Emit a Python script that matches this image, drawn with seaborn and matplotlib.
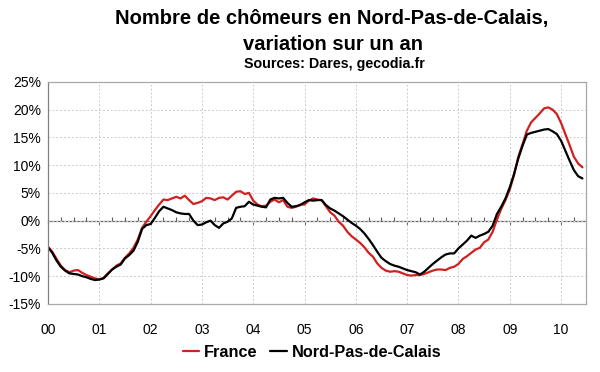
import numpy as np
import pandas as pd
import seaborn as sns
import matplotlib.pyplot as plt
from matplotlib.ticker import MultipleLocator, FuncFormatter

# Variation sur un an (%), mensuel, janvier 2000 -> juin 2010

france = [
    -4.7, -5.6, -6.9, -8.1, -8.9, -9.3, -9.0, -8.9, -9.4, -9.8, -10.1, -10.4,
    -10.6, -10.3, -9.5, -8.8, -8.1, -7.7, -6.7, -5.9, -4.9, -3.4, -1.3, -0.2,
    0.8, 1.9, 2.9, 3.8, 3.7, 4.0, 4.3, 4.0, 4.5, 3.7, 3.0, 3.2,
    3.5, 4.1, 4.0, 3.7, 4.1, 4.2, 3.8, 4.5, 5.2, 5.3, 4.8, 5.0,
    3.6, 2.9, 2.6, 2.7, 3.4, 3.8, 3.3, 3.7, 2.5, 2.3, 2.5, 2.9,
    2.9, 3.6, 4.0, 3.8, 3.7, 2.6, 1.5, 0.9, -0.2, -0.9, -2.0, -2.8,
    -3.4, -4.0, -4.8, -5.8, -6.5, -7.7, -8.5, -9.0, -9.2, -9.1, -9.2, -9.5,
    -9.8, -9.9, -9.8, -9.8, -9.6, -9.3, -9.0, -8.8, -8.8, -8.9, -8.5, -8.3,
    -7.8, -6.9, -6.4, -5.8, -5.2, -4.9, -3.9, -3.4, -2.0, 0.2, 2.1, 3.7,
    5.6, 8.2, 11.5, 13.8, 16.2, 17.7, 18.5, 19.3, 20.2, 20.4, 20.0, 19.2,
    17.6, 15.6, 13.6, 11.5, 10.3, 9.6,
]

nord_pdc = [
    -4.8, -5.8, -7.2, -8.3, -9.0, -9.5, -9.6, -9.7, -10.0, -10.2, -10.5, -10.7,
    -10.6, -10.4, -9.6, -8.8, -8.3, -7.9, -6.8, -6.2, -5.4, -3.8, -1.5, -0.8,
    -0.6, 0.5, 1.7, 2.5, 2.2, 1.9, 1.5, 1.3, 1.2, 1.2, 0.0, -0.8,
    -0.7, -0.3, 0.0, -0.8, -1.3, -0.5, -0.2, 0.4, 2.3, 2.5, 2.6, 3.4,
    2.9, 2.7, 2.5, 2.4, 3.8, 4.1, 4.0, 4.1, 3.2, 2.5, 2.6, 2.8,
    3.3, 3.7, 3.6, 3.7, 3.7, 2.8, 2.2, 1.8, 1.3, 0.8, 0.2, -0.4,
    -0.9, -1.5, -2.3, -3.3, -4.4, -5.6, -6.7, -7.3, -7.8, -8.1, -8.3, -8.6,
    -8.9, -9.1, -9.3, -9.7, -9.2, -8.5, -7.8, -7.2, -6.6, -6.1, -5.9, -5.9,
    -5.0, -4.3, -3.6, -2.7, -3.1, -2.7, -2.4, -2.0, -0.9, 1.2, 2.5, 4.0,
    6.0, 8.4, 11.2, 13.5, 15.5, 15.8, 16.0, 16.2, 16.4, 16.5, 16.1, 15.6,
    14.4, 12.6, 10.8, 9.1, 8.0, 7.6,
]

years = ["00", "01", "02", "03", "04", "05", "06", "07", "08", "09", "10"]
series_names = ["France", "Nord-Pas-de-Calais"]
colors = {"France": "#d02020", "Nord-Pas-de-Calais": "#000000"}

df = pd.DataFrame({
    "annee": np.arange(len(france)) / 12,
    "France": france,
    "Nord-Pas-de-Calais": nord_pdc,
})
long_df = df.melt(id_vars="annee", var_name="serie", value_name="variation")

sns.set_style("white")
plt.rcParams["font.family"] = ["Liberation Sans", "DejaVu Sans"]
plt.rcParams["text.color"] = "black"

fig = plt.figure(figsize=(6, 3.72), dpi=100)
ax = fig.add_axes([0.08, 0.183, 0.897, 0.597])

sns.lineplot(
    data=long_df,
    x="annee",
    y="variation",
    hue="serie",
    hue_order=series_names,
    palette=colors,
    linewidth=1.6,
    ax=ax,
    legend=False,
)

ax.set_xlim(0, 10.49)
ax.set_ylim(-15, 25)
ax.set_xlabel("")
ax.set_ylabel("")

# grille pointillée
ax.yaxis.set_major_locator(MultipleLocator(5))
ax.grid(True, which="major", color="#cccccc", linestyle=(0, (2, 2)), linewidth=0.7)

ax.yaxis.set_major_formatter(FuncFormatter(lambda v, p: "%d%%" % v))
ax.set_xticks(range(len(years)))
ax.set_xticklabels(years)
ax.tick_params(axis="x", length=0, pad=14, labelsize=10, labelcolor="black")
ax.tick_params(axis="y", direction="out", length=3, width=0.8, color="#808080",
               labelsize=10, pad=2, labelcolor="black")

for side in ["top", "right", "bottom"]:
    ax.spines[side].set_color("#a8a8a8")
    ax.spines[side].set_linewidth(0.9)
ax.spines["left"].set_color("#808080")
ax.spines["left"].set_linewidth(0.9)

# axe horizontal au niveau 0%
zero_ax = ax.secondary_xaxis(15 / 40)
zero_ax.spines["bottom"].set_color("#606060")
zero_ax.spines["bottom"].set_linewidth(0.9)
zero_ax.xaxis.set_major_locator(MultipleLocator(1))
zero_ax.xaxis.set_minor_locator(MultipleLocator(0.25))
zero_ax.tick_params(which="major", direction="out", length=3, width=0.8,
                    color="#606060", labelbottom=False)
zero_ax.tick_params(which="minor", direction="in", length=3, width=0.8,
                    color="#606060")
zero_ax.set_xticklabels([])

fig.text(0.553, 0.950, "Nombre de chômeurs en Nord-Pas-de-Calais,",
         ha="center", va="center", fontsize=14.5, fontweight="bold")
fig.text(0.555, 0.881, "variation sur un an",
         ha="center", va="center", fontsize=14.5, fontweight="bold")
fig.text(0.557, 0.828, "Sources: Dares, gecodia.fr",
         ha="center", va="center", fontsize=10.3, fontweight="bold")

handles = [plt.Line2D([], [], color=colors[n], linewidth=1.6) for n in series_names]
fig.legend(handles, series_names, loc="center", bbox_to_anchor=(0.52, 0.052),
           ncol=2, frameon=False, handlelength=1.0, handletextpad=0.3,
           columnspacing=0.8, prop={"weight": "bold", "size": 11.7})

plt.savefig("out.png", dpi=100, facecolor="white")
